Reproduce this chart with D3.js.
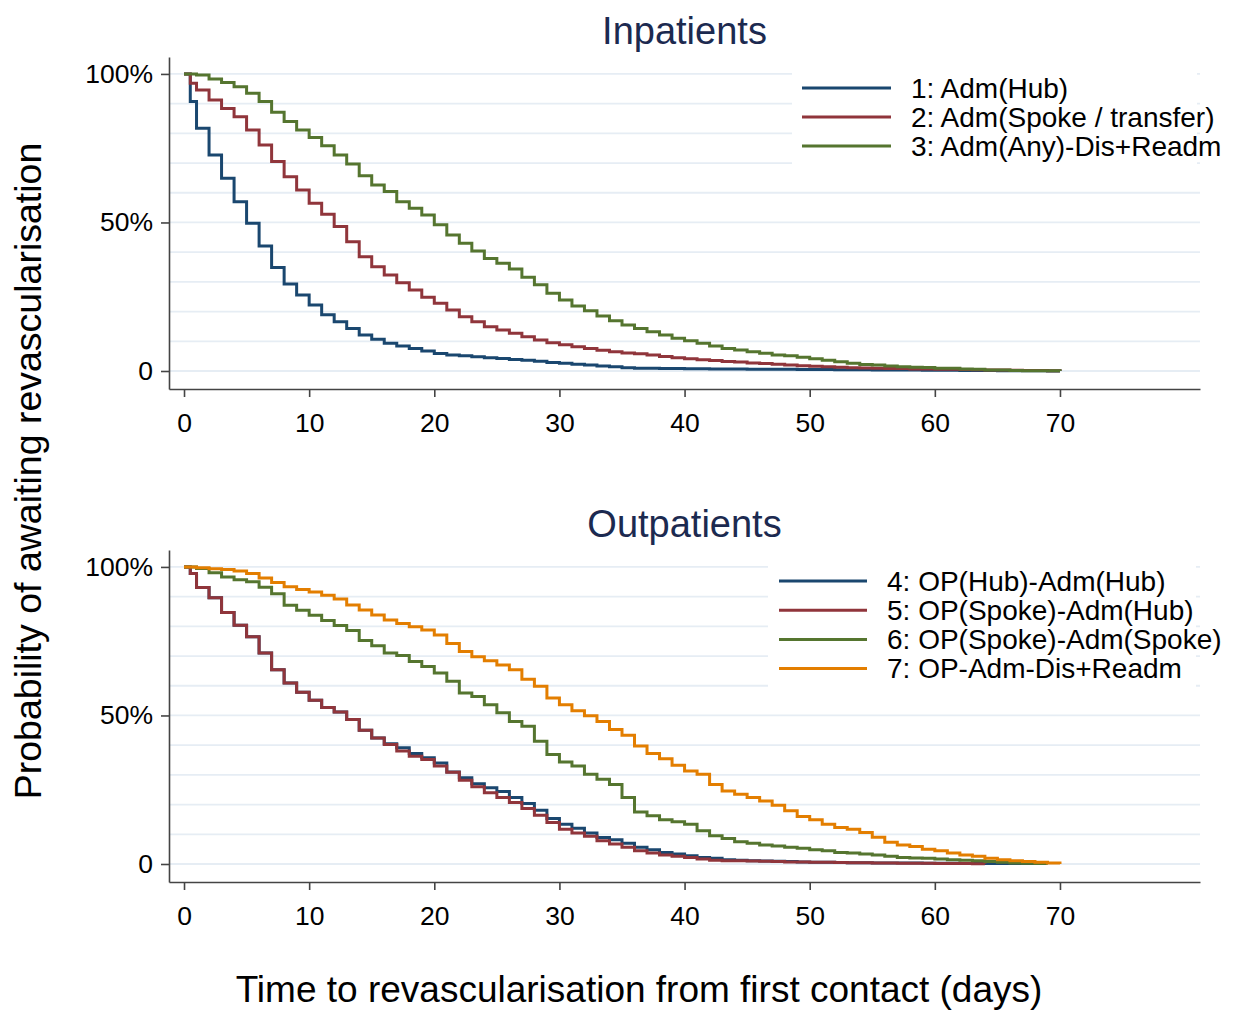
<!DOCTYPE html>
<html>
<head>
<meta charset="utf-8">
<script src="https://cdn.jsdelivr.net/npm/d3@7"></script>
<style>
  html, body { margin: 0; padding: 0; background: #fff; }
  svg { display: block; font-family: "Liberation Sans", Arial, sans-serif; }
</style>
</head>
<body>
<svg id="chart" width="1235" height="1012"></svg>
<script>
// ---------------- DATA ----------------
const days = [0, 0.5, 1, 2, 3, 4, 5, 6, 7, 8, 9, 10, 11, 12, 13, 14, 15, 16, 17, 18, 19, 20,
  21, 22, 23, 24, 25, 26, 27, 28, 29, 30, 31, 32, 33, 34, 35, 36, 37, 38, 39, 40,
  41, 42, 43, 44, 45, 46, 47, 48, 49, 50, 51, 52, 53, 54, 55, 56, 57, 58, 59, 60,
  61, 62, 63, 64, 65, 66, 67, 68, 69, 70];

const xTicks = [0, 10, 20, 30, 40, 50, 60, 70];
const yTicks = [0, 50, 100];
const yGrid = [0, 10, 20, 30, 40, 50, 60, 70, 80, 90, 100];

const panelTitles = ["Inpatients", "Outpatients"];
const xAxisTitle = "Time to revascularisation from first contact (days)";
const yAxisTitle = "Probability of awaiting revascularisation";

// Inpatients
const inLabels = ["1: Adm(Hub)", "2: Adm(Spoke / transfer)", "3: Adm(Any)-Dis+Readm"];
const in1 = [100, 90.7, 81.7, 72.7, 64.9, 57.0, 49.7, 42.1, 34.8, 29.3, 25.6, 22.2, 18.9, 16.6, 14.3, 12.1, 10.7, 9.3, 8.4, 7.6, 6.7, 5.9,
  5.4, 5.1, 4.8, 4.5, 4.2, 3.9, 3.6, 3.3, 2.9, 2.6, 2.3, 2.0, 1.7, 1.4, 1.1, 0.95, 0.9, 0.85, 0.8, 0.75,
  0.72, 0.7, 0.67, 0.65, 0.62, 0.6, 0.57, 0.55, 0.52, 0.5, 0.47, 0.45, 0.42, 0.4, 0.37, 0.35, 0.32, 0.3, 0.27, 0.25,
  0.22, 0.2, 0.17, 0.15, 0.12, 0.1, 0.07, 0.05, 0.02, 0];
const in2 = [100, 96.9, 94.6, 91.2, 88.4, 85.6, 81.1, 76.1, 70.5, 65.4, 60.9, 56.5, 52.8, 48.6, 43.5, 38.5, 35.1, 32.3, 29.7, 27.3, 24.8, 22.8,
  20.5, 18.3, 16.6, 14.9, 13.8, 12.7, 11.5, 10.4, 9.5, 8.8, 8.2, 7.6, 7.0, 6.5, 6.1, 5.8, 5.4, 4.9, 4.5, 4.1,
  3.8, 3.5, 3.2, 3.0, 2.7, 2.5, 2.3, 2.0, 1.8, 1.6, 1.4, 1.3, 1.1, 1.0, 0.9, 0.85, 0.8, 0.7, 0.65, 0.6,
  0.55, 0.5, 0.42, 0.35, 0.3, 0.25, 0.2, 0.15, 0.1, 0];
const in3 = [100, 100, 99.6, 98.3, 97.1, 95.7, 93.5, 90.7, 87.1, 84.0, 81.1, 78.6, 75.8, 72.7, 69.7, 65.7, 62.6, 60.4, 57.0, 54.8, 52.5, 49.2,
  45.8, 43.0, 40.4, 37.9, 36.3, 34.3, 31.6, 29.0, 26.2, 23.9, 21.9, 20.3, 18.5, 16.9, 15.5, 14.3, 13.2, 12.1, 11.0, 10.2,
  9.3, 8.4, 7.6, 7.1, 6.5, 6.0, 5.4, 5.1, 4.6, 4.1, 3.6, 3.1, 2.6, 2.2, 2.0, 1.7, 1.4, 1.25, 1.2, 0.95,
  0.9, 0.65, 0.6, 0.35, 0.3, 0.15, 0.12, 0.1, 0.08, 0];

// Outpatients
const outLabels = ["4: OP(Hub)-Adm(Hub)", "5: OP(Spoke)-Adm(Hub)", "6: OP(Spoke)-Adm(Spoke)", "7: OP-Adm-Dis+Readm"];
const out4 = [100, 97.8, 93.1, 89.6, 84.7, 80.4, 76.5, 71.0, 65.4, 60.9, 57.8, 55.1, 52.7, 51.2, 48.6, 45.0, 42.4, 40.5, 39.1, 37.2, 35.8, 34.0,
  31.0, 29.0, 27.0, 25.7, 24.4, 22.4, 20.4, 18.1, 15.3, 13.4, 12.0, 10.4, 8.9, 8.2, 7.0, 5.6, 4.8, 3.9, 3.4, 2.8,
  2.2, 1.9, 1.4, 1.3, 1.1, 1.0, 0.9, 0.8, 0.7, 0.6, 0.55, 0.5, 0.45, 0.4, 0.35, 0.3, 0.3, 0.3, 0.25, 0.25,
  0.25, 0.2, 0.2, 0.2, 0.2, 0.2, 0.15, 0.15, 0.1, null];
const out5 = [100, 97.8, 93.1, 89.6, 84.7, 80.4, 76.5, 71.0, 65.4, 60.9, 57.8, 55.1, 52.7, 51.2, 48.6, 45.0, 42.4, 40.2, 38.0, 36.3, 35.2, 33.0,
  30.9, 28.2, 26.0, 24.0, 22.4, 20.7, 18.7, 16.4, 14.0, 11.7, 10.4, 9.3, 7.8, 6.7, 5.6, 4.5, 3.7, 3.0, 2.6, 2.2,
  1.7, 1.3, 1.1, 1.1, 1.0, 0.9, 0.8, 0.7, 0.65, 0.6, 0.55, 0.5, 0.45, 0.4, 0.35, 0.3, 0.28, 0.25, 0.22, 0.2,
  0.18, 0.15, 0.12, 0.1, null, null, null, null, null, null];
const out6 = [100, 100, 99.5, 98.0, 96.6, 95.7, 95.0, 93.2, 91.0, 87.1, 85.4, 83.7, 82.0, 80.3, 78.6, 75.2, 73.5, 71.0, 70.2, 68.2, 66.5, 64.3,
  61.5, 57.6, 56.4, 53.6, 50.9, 48.0, 46.4, 41.3, 36.9, 34.3, 33.0, 30.2, 28.5, 26.8, 22.4, 17.5, 16.2, 14.9, 14.2, 13.4,
  11.2, 9.5, 8.6, 7.5, 7.0, 6.4, 6.1, 5.6, 5.3, 4.8, 4.5, 3.9, 3.7, 3.4, 3.0, 2.6, 2.2, 2.0, 1.9, 1.7,
  1.4, 1.3, 1.1, 0.8, 0.6, 0.3, 0.25, 0.2, 0.15, null];
const out7 = [100, 100, 99.7, 99.4, 99.1, 98.6, 97.8, 96.3, 94.8, 93.3, 92.4, 91.6, 90.5, 89.2, 87.2, 85.5, 83.8, 82.1, 81.0, 79.9, 78.8, 77.1,
  74.2, 71.5, 69.8, 68.4, 67.0, 65.4, 62.2, 59.8, 55.9, 53.6, 51.6, 49.9, 48.0, 45.3, 43.3, 39.7, 37.2, 35.4, 33.2, 31.3,
  30.2, 26.8, 24.6, 23.5, 22.4, 21.2, 19.8, 17.9, 16.0, 14.9, 13.4, 12.3, 11.7, 10.6, 9.0, 7.3, 6.4, 5.9, 5.0, 4.5,
  3.7, 3.0, 2.6, 1.9, 1.4, 1.1, 0.8, 0.6, 0.3, 0];

const colors = ["#1a476f", "#90353b", "#55752f", "#e37e00"];

// ---------------- LAYOUT ----------------
const svg = d3.select("#chart");
const W = 1235, H = 1012;
svg.append("rect").attr("width", W).attr("height", H).attr("fill", "#fff");

const plotLeft = 169, plotRight = 1200;
const x = d3.scaleLinear().domain([-1.2, 81.19]).range([plotLeft, plotRight]);
const yDomain = [-6.06, 105.7];

const panels = [
  { title: panelTitles[0], top: 57, bottom: 389, titleY: 44, series: [in1, in2, in3], labels: inLabels,
    legend: { x: 792, y: 64, w: 405, h: 104, lineX0: 802, lineX1: 891, textX: 911, firstY: 88, step: 29 } },
  { title: panelTitles[1], top: 550, bottom: 882, titleY: 537, series: [out4, out5, out6, out7], labels: outLabels,
    legend: { x: 768, y: 557, w: 428, h: 135, lineX0: 779, lineX1: 867, textX: 887, firstY: 581, step: 29.2 } }
];

panels.forEach(p => {
  const y = d3.scaleLinear().domain(yDomain).range([p.bottom, p.top]);
  const g = svg.append("g");

  // gridlines
  g.append("g").selectAll("line").data(yGrid).join("line")
    .attr("x1", plotLeft).attr("x2", plotRight)
    .attr("y1", d => y(d)).attr("y2", d => y(d))
    .attr("stroke", "#e6edf4").attr("stroke-width", 1.8);

  // legend box (white background covering gridlines)
  const L = p.legend;
  g.append("rect").attr("x", L.x).attr("y", L.y).attr("width", L.w).attr("height", L.h).attr("fill", "#fff");

  // curves
  const line = d3.line()
    .defined(d => d.v !== null)
    .x(d => x(d.t)).y(d => y(d.v))
    .curve(d3.curveStepAfter);
  p.series.forEach((vals, i) => {
    const pts = days.map((t, k) => ({ t: t, v: vals[k] }));
    g.append("path").datum(pts)
      .attr("fill", "none")
      .attr("stroke", colors[i])
      .attr("stroke-width", 3)
      .attr("d", line);
  });

  // axes
  const yAxis = d3.axisLeft(y).tickValues(yTicks).tickSize(8).tickSizeOuter(0).tickPadding(8)
    .tickFormat(d => d === 0 ? "0" : d + "%");
  const ya = g.append("g").attr("transform", `translate(${plotLeft},0)`).call(yAxis);
  const xAxis = d3.axisBottom(x).tickValues(xTicks).tickSize(8).tickSizeOuter(0).tickPadding(16);
  const xa = g.append("g").attr("transform", `translate(0,${p.bottom})`).call(xAxis);
  [ya, xa].forEach(a => {
    a.select(".domain").attr("stroke", "#444").attr("stroke-width", 1.6);
    a.selectAll(".tick line").attr("stroke", "#444").attr("stroke-width", 1.6);
    a.selectAll("text").attr("fill", "#000").style("font-size", "26.5px")
      .style("font-family", '"Liberation Sans", Arial, sans-serif');
  });

  // panel title
  g.append("text").attr("x", (plotLeft + plotRight) / 2).attr("y", p.titleY)
    .attr("text-anchor", "middle").attr("fill", "#1c2a50")
    .style("font-size", "38px").text(p.title);

  // legend
  p.labels.forEach((lab, i) => {
    const ly = L.firstY + i * L.step;
    g.append("line").attr("x1", L.lineX0).attr("x2", L.lineX1).attr("y1", ly).attr("y2", ly)
      .attr("stroke", colors[i]).attr("stroke-width", 3);
    g.append("text").attr("x", L.textX).attr("y", ly).attr("dy", "0.35em")
      .attr("fill", "#000").style("font-size", "28px").text(lab);
  });
});

// axis titles
svg.append("text").attr("x", 639).attr("y", 1002).attr("text-anchor", "middle")
  .attr("fill", "#000").style("font-size", "37px").text(xAxisTitle);
svg.append("text").attr("transform", "translate(41,471) rotate(-90)").attr("text-anchor", "middle")
  .attr("fill", "#000").style("font-size", "37.5px").text(yAxisTitle);
</script>
</body>
</html>
